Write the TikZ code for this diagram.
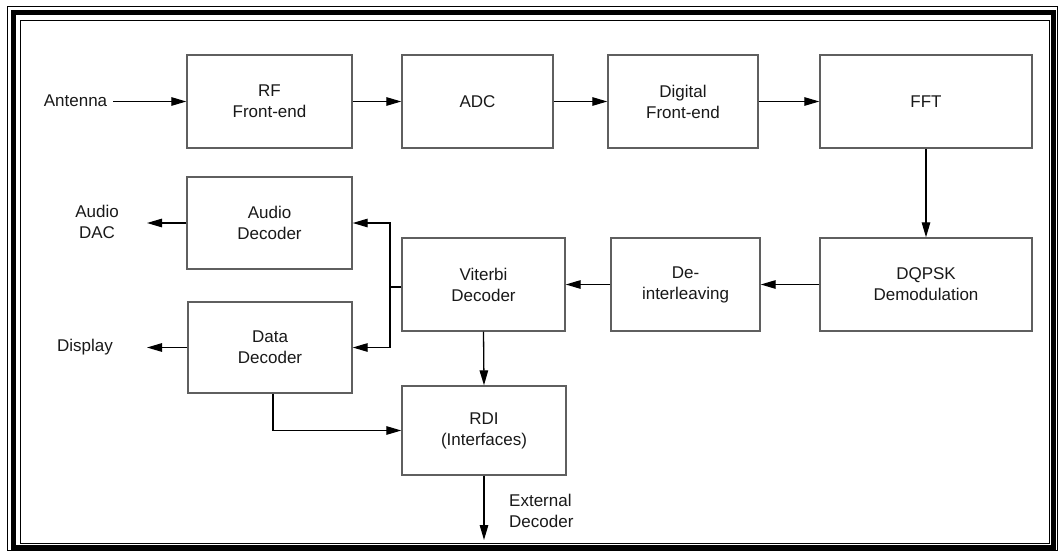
\documentclass[tikz,border=0pt]{standalone}
\usepackage{fontspec}
\setmainfont{Liberation Sans}
\usetikzlibrary{arrows.meta}
\definecolor{boxline}{RGB}{95,95,95}
\definecolor{ink}{RGB}{25,25,25}
\begin{document}
\begin{tikzpicture}[x=1pt,y=-1pt,
  blk/.style={draw=boxline,line width=1.4pt,fill=white,align=center,
    inner sep=0pt,text=ink,font=\fontsize{17}{21}\selectfont},
  lbl/.style={align=center,inner sep=0pt,text=ink,font=\fontsize{17}{21}\selectfont},
  arr/.style={draw=black,line width=1.3pt,-{Triangle[length=15pt,width=8.5pt]}},
  wire/.style={draw=black,line width=1.3pt}]
\useasboundingbox (0,0) rectangle (1059,551);
\fill[white] (0,0) rectangle (1059,551);
% double frame
\draw[line width=1pt] (7.5,7) rectangle (1057.5,550);
\draw[line width=5.5pt] (13.5,12.5) rectangle (1053.5,547.5);
\draw[line width=1.6pt] (20.5,20.5) rectangle (1049.5,543.5);

% blocks
\node[blk,minimum width=165pt,minimum height=93pt] (rf)  at (269.5,101.5) {RF\\Front-end};
\node[blk,minimum width=151pt,minimum height=93pt] (adc) at (477.5,101.5) {ADC};
\node[blk,minimum width=150pt,minimum height=93pt] (dfe) at (683,101.5) {Digital\\Front-end};
\node[blk,minimum width=212pt,minimum height=93pt] (fft) at (926,101.5) {FFT};
\node[blk,minimum width=212pt,minimum height=93pt] (dqpsk) at (926,284.5) {DQPSK\\Demodulation};
\node[blk,minimum width=149pt,minimum height=93pt] (deint) at (685.5,284.5) {De-\\interleaving};
\node[blk,minimum width=163pt,minimum height=93pt] (vit) at (483.5,284.5) {Viterbi\\Decoder};
\node[blk,minimum width=165pt,minimum height=92pt] (audio) at (269.5,223) {Audio\\Decoder};
\node[blk,minimum width=164pt,minimum height=91pt] (data) at (270,347.5) {Data\\Decoder};
\node[blk,minimum width=164pt,minimum height=89pt] (rdi) at (484,430.5) {RDI\\(Interfaces)};

% outside labels
\node[lbl] (ant) at (75.5,101) {Antenna};
\node[lbl] (dac) at (97,222) {Audio\\DAC};
\node[lbl] (disp) at (85,347) {Display};
\node[lbl,align=left,anchor=west] (ext) at (509,511) {External\\Decoder};

\coordinate (antout) at (113,101.5);
\coordinate (dacin) at (147,223);
\coordinate (dispin) at (147,347.5);
\coordinate (br) at (390,287);
\coordinate (extin) at (483,540);

% connectors
\draw[arr] (antout) -- (rf.west);
\draw[arr] (rf) -- (adc);
\draw[arr] (adc) -- (dfe);
\draw[arr] (dfe) -- (fft);
\draw[arr] (fft) -- (dqpsk);
\draw[arr] (dqpsk) -- (deint);
\draw[arr] (deint) -- (vit);
\draw[wire] (vit.west |- br) -- (br);
\draw[arr] (br) |- (audio.east);
\draw[arr] (br) |- (data.east);
\draw[arr] (audio.west) -- (dacin);
\draw[arr] (data.west) -- (dispin);
\draw[arr] (vit.south) -- (rdi.north);
\draw[arr] ([xshift=3pt]data.south) |- (rdi.west);
\draw[arr] (rdi.south) -- (rdi.south |- extin);
\end{tikzpicture}
\end{document}
